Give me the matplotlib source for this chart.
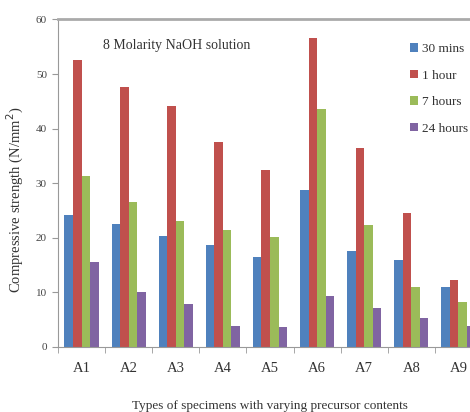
import numpy as np
import matplotlib
matplotlib.use("Agg")
import matplotlib.pyplot as plt

plt.rcParams["font.family"] = ["Liberation Serif", "DejaVu Serif"]

specimens = ["A1", "A2", "A3", "A4", "A5", "A6", "A7", "A8", "A9"]
series_names = ["30 mins", "1 hour", "7 hours", "24 hours"]
mins_30 = [24.2, 22.5, 20.4, 18.6, 16.5, 28.7, 17.6, 16.0, 11.0]
hour_1 = [52.6, 47.7, 44.1, 37.6, 32.5, 56.6, 36.5, 24.6, 12.3]
hours_7 = [31.4, 26.6, 23.1, 21.5, 20.1, 43.6, 22.4, 11.0, 8.2]
hours_24 = [15.6, 10.1, 7.8, 3.8, 3.6, 9.4, 7.2, 5.4, 3.8]
colors = ["#4F81BD", "#C0504D", "#9BBB59", "#8064A2"]

fig = plt.figure(figsize=(4.70, 4.12), dpi=100)
# axes run past the right edge, like the cropped original
ax = fig.add_axes([58 / 470, 65 / 412, 424 / 470, 327.5 / 412])

x = np.arange(len(specimens))
w = 1 / 5.5
for i, (vals, name) in enumerate(zip([mins_30, hour_1, hours_7, hours_24], series_names)):
    ax.bar(x + (i - 1.5) * w, vals, width=w, color=colors[i], label=name)

ax.set_xlim(-0.5, len(specimens) - 0.5)
ax.set_ylim(0, 60)
ax.set_yticks(range(0, 61, 10))
ax.set_xticks(x)
ax.set_xticklabels(specimens, fontsize=10.5, color="#333333")
ax.set_xticks(np.arange(-0.5, len(specimens), 1), minor=True)
ax.tick_params(axis="x", which="major", length=0, pad=11)
ax.tick_params(axis="x", which="minor", length=4, color="#999999", direction="out")
ax.tick_params(axis="y", length=4, color="#999999", labelsize=8, labelcolor="#444444", pad=4)

for side in ["left", "bottom"]:
    ax.spines[side].set_color("#999999")
    ax.spines[side].set_linewidth(0.8)
ax.spines["top"].set_color("#aaaaaa")
ax.spines["top"].set_linewidth(2)
ax.spines["right"].set_visible(False)

ax.set_ylabel("Compressive strength (N/mm$^2$)", fontsize=10.5, color="#333333")
ax.yaxis.set_label_coords(-0.075, 0.45)
ax.set_xlabel("Types of specimens with varying precursor contents", fontsize=9.5,
              color="#333333", labelpad=18)

ax.text(0.45, 55.2, "8 Molarity NaOH solution", fontsize=10, color="#333333",
        ha="left", va="center")

fig.legend(loc="upper left", bbox_to_anchor=(405 / 470, 1 - 38 / 412), frameon=False,
           fontsize=9.5, handlelength=0.6, handleheight=0.6, handletextpad=0.3,
           labelspacing=1.1, borderaxespad=0, labelcolor="#333333")

fig.savefig("out.png", dpi=100)
